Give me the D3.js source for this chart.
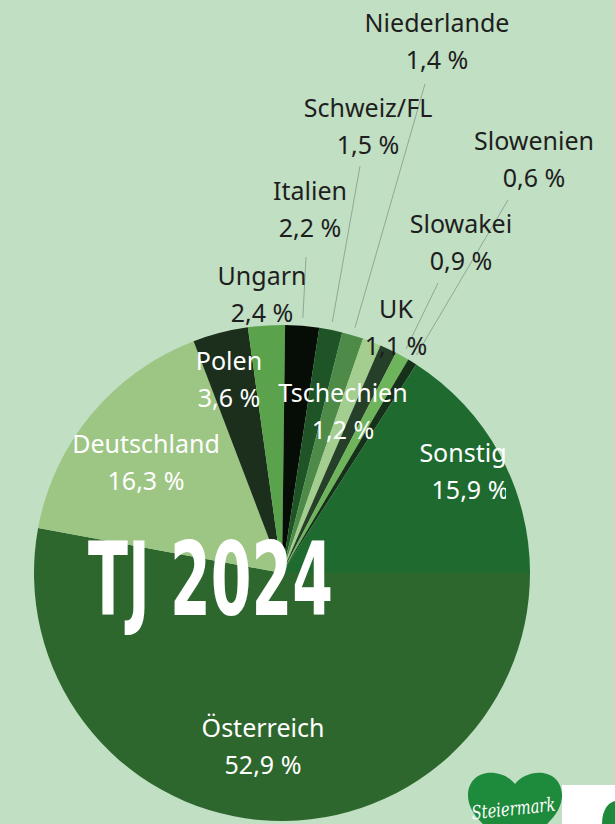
<!DOCTYPE html>
<html>
<head>
<meta charset="utf-8">
<script src="https://cdn.jsdelivr.net/npm/d3@7"></script>
<style>
  html, body { margin: 0; padding: 0; background: #c1dfc3; overflow: hidden; }
  svg { display: block; }
</style>
</head>
<body>
<div class="visual"></div>
<script>
// Gästeankünfte nach Herkunft, Tourismusjahr 2024
var countries = ["Österreich", "Deutschland", "Polen", "Ungarn", "Italien", "Schweiz/FL",
                 "Niederlande", "Tschechien", "UK", "Slowakei", "Slowenien", "Sonstige"];
var shares = [52.9, 16.3, 3.6, 2.4, 2.2, 1.5, 1.4, 1.2, 1.1, 0.9, 0.6, 15.9];
var sliceColors = ["#2e672d", "#9dc584", "#1b2f1c", "#5aa34c", "#060c06", "#1f5426",
                   "#4e8b49", "#a4cd90", "#263f28", "#6db45b", "#16301a", "#1e6a2f"];
var title = "TJ 2024";

// where each label sits (name baseline), whether it is inside the pie, and leader line start
var labelPos = {
  "Österreich":  {x: 263, y: 737, inside: true},
  "Deutschland": {x: 146, y: 453, inside: true},
  "Polen":       {x: 229, y: 370, inside: true},
  "Ungarn":      {x: 262, y: 285},
  "Italien":     {x: 310, y: 200, lx: -4,  ly: 20},
  "Schweiz/FL":  {x: 368, y: 117, lx: -8,  ly: 12},
  "Niederlande": {x: 437, y: 32,  lx: -12, ly: 15},
  "Tschechien":  {x: 343, y: 402, inside: true},
  "UK":          {x: 396, y: 318},
  "Slowakei":    {x: 461, y: 233, lx: -23, ly: 13},
  "Slowenien":   {x: 534, y: 150, lx: -26, ly: 13},
  "Sonstige":    {x: 470, y: 462, inside: true, clip: true}
};

var width = 615, height = 824;
var cx = 282, cy = 573, radius = 248;

var svg = d3.select(".visual")
  .append("svg")
    .attr("width", width)
    .attr("height", height);

svg.append("rect")
    .attr("width", width)
    .attr("height", height)
    .attr("fill", "#c1dfc3");

svg.append("defs").append("clipPath")
    .attr("id", "cutRight")
  .append("rect")
    .attr("x", 0).attr("y", 0)
    .attr("width", 506).attr("height", height);

var data = countries.map(function(c, i) {
  return {name: c, value: shares[i], color: sliceColors[i]};
});

var pie = d3.pie()
    .sort(null)
    .startAngle(Math.PI / 2)
    .endAngle(Math.PI / 2 + 2 * Math.PI)
    .value(function(d) { return d.value; });

var arc = d3.arc()
    .innerRadius(0)
    .outerRadius(radius);

var g = svg.append("g")
    .attr("transform", "translate(" + cx + "," + cy + ")");

var arcs = pie(data);

g.selectAll("path.slice")
  .data(arcs)
  .enter()
  .append("path")
    .attr("class", "slice")
    .attr("d", arc)
    .attr("fill", function(d) { return d.data.color; });

// leader lines for the small slices
var fmt = function(v) { return String(v.toFixed(1)).replace(".", ",") + " %"; };

arcs.forEach(function(d) {
  var p = labelPos[d.data.name];
  if (p.lx === undefined) return;
  var mid = (d.startAngle + d.endAngle) / 2;
  var r = radius + 8;
  svg.append("line")
      .attr("x1", p.x + p.lx)
      .attr("y1", p.y + 37 + p.ly)
      .attr("x2", cx + r * Math.sin(mid))
      .attr("y2", cy - r * Math.cos(mid))
      .attr("stroke", "#8f9f90")
      .attr("stroke-width", 0.9);
});

// labels
arcs.forEach(function(d) {
  var p = labelPos[d.data.name];
  var t = svg.append("text")
      .attr("text-anchor", "middle")
      .style("font-family", "'Noto Sans', 'Open Sans', sans-serif")
      .style("font-size", "25px")
      .attr("fill", p.inside ? "#ffffff" : "#1e1e1e");
  if (p.clip) t.attr("clip-path", "url(#cutRight)");
  t.append("tspan")
      .attr("x", p.x)
      .attr("y", p.y)
      .text(d.data.name);
  t.append("tspan")
      .attr("x", p.x)
      .attr("y", p.y + 37)
      .text(fmt(d.data.value));
});

// big year title
svg.append("text")
    .attr("x", 88)
    .attr("y", 615)
    .attr("textLength", 245)
    .attr("lengthAdjust", "spacingAndGlyphs")
    .style("font-family", "'Liberation Sans Narrow', 'DejaVu Sans Condensed', sans-serif")
    .style("font-weight", "bold")
    .style("font-size", "102px")
    .attr("fill", "#ffffff")
    .text(title);

// Steiermark logo, bottom right
var logo = svg.append("g");
logo.append("rect")
    .attr("x", 562).attr("y", 785)
    .attr("width", 60).attr("height", 50)
    .attr("fill", "#ffffff");
logo.append("path")
    .attr("d", "M602,824 C602,809 609,802 615,801 L615,824 Z")
    .attr("fill", "#1e8a3c");
logo.append("path")
    .attr("d", "M515,784 C503,768 470,767 468,794 C467,815 490,832 515,848 C540,832 563,815 562,794 C560,767 527,768 515,784 Z")
    .attr("fill", "#1e8a3c");
logo.append("text")
    .attr("x", 472)
    .attr("y", 815)
    .attr("textLength", 84)
    .attr("lengthAdjust", "spacingAndGlyphs")
    .attr("transform", "rotate(-6,514,815)")
    .style("font-family", "'DejaVu Serif', serif")
    .style("font-style", "italic")
    .style("font-size", "19px")
    .attr("fill", "#ffffff")
    .text("Steiermark");
</script>
</body>
</html>
